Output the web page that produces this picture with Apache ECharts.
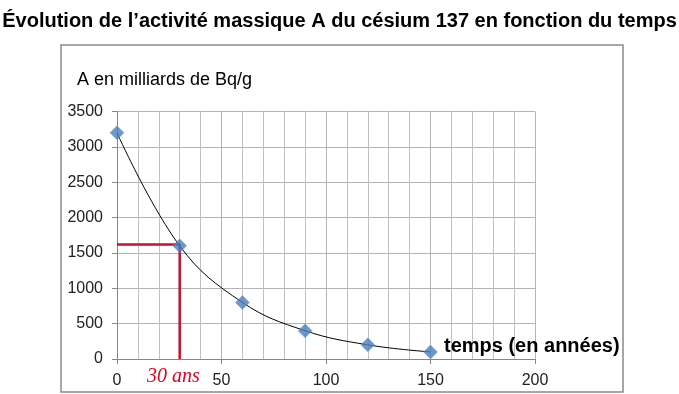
<!DOCTYPE html>
<html><head><meta charset="utf-8">
<script src="https://cdn.jsdelivr.net/npm/echarts@6/dist/echarts.min.js"></script>
<style>html,body{margin:0;padding:0;background:#fff}#c{width:679px;height:394px}</style>
</head><body><div id="c"></div>
<script>
// Data
const years = [0, 30, 60, 90, 120, 150];
const activity = [3200, 1600, 800, 400, 200, 100];
const halfLifeGuide = [[0, 1620], [30, 1620], [30, 0]];
const xTicks = [0, 50, 100, 150, 200];
const yTicks = [0, 500, 1000, 1500, 2000, 2500, 3000, 3500];

const pts = years.map((x, i) => [x, activity[i]]);
const chart = echarts.init(document.getElementById('c'), null, {renderer: 'canvas'});
const font = '"Liberation Sans", Arial, sans-serif';
chart.setOption({
  animation: false,
  title: {
    text: 'Évolution de l\u2019activité massique A du césium 137 en fonction du temps',
    left: 'center', top: 6,
    textStyle: {fontFamily: font, fontSize: 20, fontWeight: 'bold', color: '#000'}
  },
  grid: {left: 117, right: 144, top: 111.5, bottom: 35},
  xAxis: {
    type: 'value', min: xTicks[0], max: xTicks[xTicks.length - 1], interval: 50,
    axisLine: {show: true, lineStyle: {color: '#868686', width: 1}},
    axisTick: {show: true, length: 5, lineStyle: {color: '#868686'}},
    minorTick: {show: true, splitNumber: 5, length: 0},
    splitLine: {show: true, lineStyle: {color: '#b4b4b4', width: 1}},
    minorSplitLine: {show: true, lineStyle: {color: '#c0c0c0', width: 1}},
    axisLabel: {margin: 14, fontFamily: font, fontSize: 16, color: '#222',
                formatter: v => String(v)}
  },
  yAxis: {
    type: 'value', min: yTicks[0], max: yTicks[yTicks.length - 1], interval: 500,
    axisLine: {show: true, lineStyle: {color: '#868686', width: 1}},
    axisTick: {show: true, length: 5, lineStyle: {color: '#868686'}},
    splitLine: {show: true, lineStyle: {color: '#b4b4b4', width: 1}},
    axisLabel: {margin: 14, fontFamily: font, fontSize: 16, color: '#222',
                formatter: v => String(v)}
  },
  series: [
    {type: 'line', data: halfLifeGuide, symbol: 'none', z: 3,
     lineStyle: {color: '#c8102e', width: 2.5}},
    {type: 'line', data: pts, smooth: 0.4, symbol: 'none', z: 4,
     lineStyle: {color: '#000', width: 1}},
    {type: 'scatter', data: pts, symbol: 'diamond', symbolSize: 14, z: 5,
     itemStyle: {color: '#4a7ebb', borderColor: '#6f9bd0', borderWidth: 0.5}}
  ],
  graphic: [
    {type: 'rect', shape: {x: 61, y: 45, width: 562, height: 347},
     style: {fill: 'none', stroke: '#8a8a8a', lineWidth: 1.5}, z: 1},
    {type: 'text', left: 77, top: 71,
     style: {text: 'A en milliards de Bq/g', font: '18px ' + font, fill: '#000'}},
    {type: 'text', left: 147, top: 367,
     style: {text: '30 ans', font: 'italic 20px "Liberation Serif", "Times New Roman", serif', fill: '#e0001b'}},
    {type: 'text', left: 444, top: 336, z: 10,
     style: {text: 'temps (en années)', font: 'bold 20px ' + font, fill: '#000'}}
  ]
});
</script></body></html>
